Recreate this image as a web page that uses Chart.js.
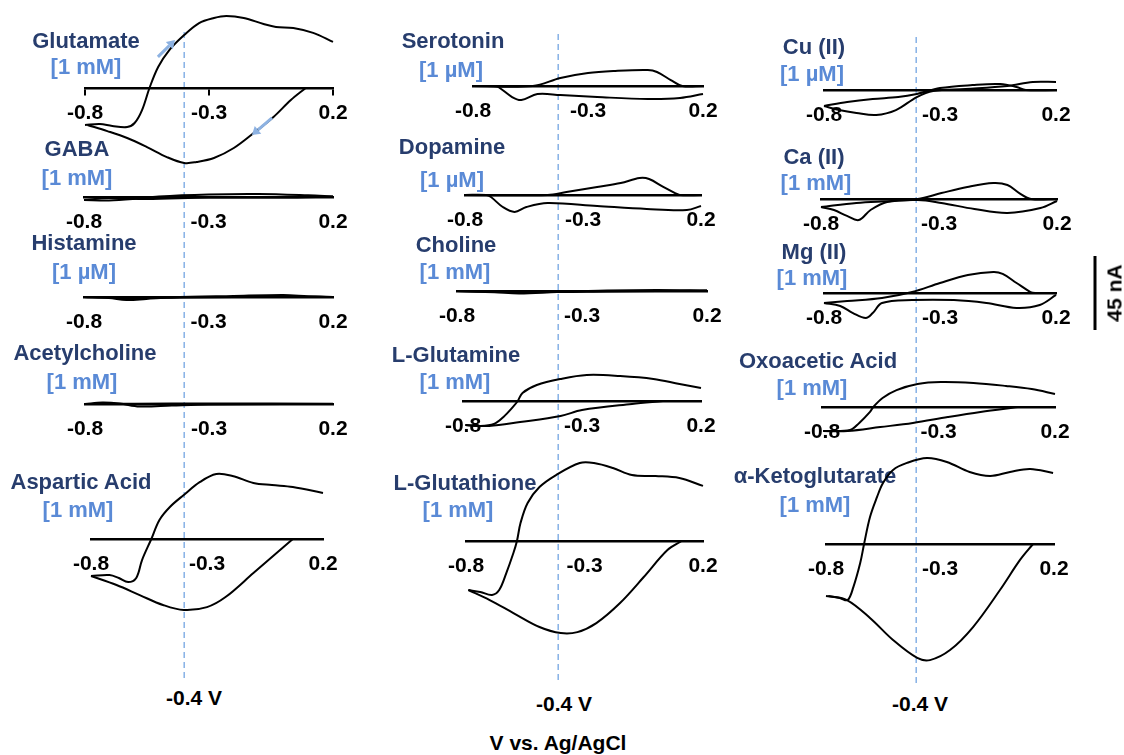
<!DOCTYPE html>
<html>
<head>
<meta charset="utf-8">
<script src="https://cdn.jsdelivr.net/npm/chart.js@4.4.1/dist/chart.umd.min.js"></script>
<style>
  html, body { margin: 0; padding: 0; background: #fff; }
  #fig { position: relative; width: 1124px; height: 755px; overflow: hidden;
         font-family: "Liberation Sans", Arial, sans-serif; font-weight: bold; }
  .lbl { position: absolute; white-space: nowrap; transform: translate(-50%, -50%);
         font-size: 21px; line-height: 1; }
  .name { color: #273d6d; font-size: 22px; }
  .conc { color: #5a8ad6; font-size: 22px; }
  .plot { position: absolute; }
</style>
</head>
<body>
<div id="fig"></div>
<script>
// ---- data (potential in V, current in nA) ----
const xTicks = [-0.8, -0.3, 0.2];
const xTickLabels = ['-0.8', '-0.3', '0.2'];
const guideV = -0.4;
const scaleBarNA = 45;

const glutamateFwd = [[-0.8,-22.5],[-0.74,-21.9],[-0.69,-23.1],[-0.63,-23.7],[-0.6,-21.3],[-0.57,-13.4],[-0.54,0],[-0.505,12.8],[-0.46,23.1],[-0.4,32.2],[-0.34,39.5],[-0.28,42.6],[-0.23,43.8],[-0.16,42.6],[-0.08,38.9],[-0.03,37.1],[0.04,36.5],[0.12,33.5],[0.2,28.0]];
const glutamateRev = [[0.09,0],[0.03,-7.3],[-0.04,-17.6],[-0.12,-27.4],[-0.2,-36.5],[-0.28,-42.6],[-0.35,-45],[-0.4,-45.6],[-0.47,-42],[-0.55,-35.9],[-0.63,-30.4],[-0.71,-26.2],[-0.79,-22.5]];
const glutamateArrows = [[[-0.506,18.9],[-0.437,29.2]], [[-0.046,-18.2],[-0.127,-28.6]]];

const gabaFwd = [[-0.8,-1.8],[-0.7,-2.1],[-0.6,-1.2],[-0.5,0.3],[-0.3,1.5],[-0.1,1.8],[0.1,1.0],[0.2,0.3]];
const gabaRev = [[0.2,0.3],[0.0,-0.3],[-0.3,-0.3],[-0.55,-1.2],[-0.7,-0.6],[-0.8,-1.8]];

const histamineFwd = [[-0.8,0],[-0.7,-0.6],[-0.63,-1.8],[-0.55,-1.2],[-0.45,-0.3],[-0.2,0.6],[0,1.2],[0.1,0.5],[0.2,0]];
const histamineRev = [[0.2,0],[0,0.3],[-0.4,-0.3],[-0.6,-0.6],[-0.8,0]];

const achFwd = [[-0.8,0],[-0.73,0.9],[-0.66,0.3],[-0.58,-1.5],[-0.45,-0.9],[-0.3,-0.3],[0,0],[0.2,0]];
const achRev = [[0.2,0.2],[-0.3,0.3],[-0.6,0.2],[-0.8,0]];

const aspFwd = [[-0.8,-22.5],[-0.72,-21.9],[-0.68,-23.7],[-0.64,-26.2],[-0.605,-23.7],[-0.58,-12.8],[-0.54,0],[-0.505,11.6],[-0.46,19.5],[-0.4,26.8],[-0.33,34.7],[-0.26,39.5],[-0.19,38.3],[-0.1,34.1],[-0.02,32.8],[0.07,31.6],[0.2,28.0]];
const aspRev = [[0.07,0],[0.0,-8.5],[-0.1,-20.7],[-0.22,-35.3],[-0.3,-41.4],[-0.4,-43.2],[-0.49,-40.1],[-0.59,-34.1],[-0.69,-28.0],[-0.8,-22.5]];

const serFwd = [[-0.8,0],[-0.54,0],[-0.42,4.9],[-0.3,7.9],[-0.19,9.1],[-0.04,9.7],[0.0,8.5],[0.06,3.6],[0.11,0],[0.2,0]];
const serRev = [[0.2,-4.9],[0.1,-7.3],[-0.04,-7.9],[-0.26,-6.7],[-0.42,-5.5],[-0.52,-4.9],[-0.59,-8.5],[-0.63,-6.7],[-0.69,-0.6],[-0.71,0],[-0.8,0]];

const dopFwd = [[-0.8,0],[-0.45,0],[-0.37,1.8],[-0.24,4.9],[-0.14,7.3],[-0.06,10.3],[-0.02,9.7],[0.04,4.9],[0.09,1.2],[0.11,0],[0.2,0]];
const dopRev = [[0.2,-6.7],[0.14,-9.1],[-0.03,-8.5],[-0.24,-6.7],[-0.45,-4.9],[-0.54,-7.3],[-0.59,-10.3],[-0.64,-7.3],[-0.69,-1.2],[-0.71,0],[-0.8,0]];

const cholFwd = [[-0.8,0],[-0.65,-0.8],[-0.55,-1.5],[-0.4,-0.6],[-0.2,0.3],[0,0.6],[0.2,0.3]];
const cholRev = [[0.2,0.3],[-0.2,-0.3],[-0.5,-0.6],[-0.8,0]];

const glnFwd = [[-0.79,-14.6],[-0.73,-15.2],[-0.67,-14.0],[-0.63,-9.7],[-0.59,-3.6],[-0.57,0],[-0.55,4.9],[-0.49,9.7],[-0.39,13.4],[-0.28,15.8],[-0.14,15.2],[0.0,13.4],[0.11,10.3],[0.2,7.9]];
const glnRev = [[0.04,0],[-0.09,-1.8],[-0.3,-5.5],[-0.39,-9.1],[-0.56,-12.8],[-0.69,-15.2],[-0.79,-14.6]];

const gshFwd = [[-0.79,-29.8],[-0.74,-31.0],[-0.69,-32.8],[-0.66,-29.8],[-0.63,-19.5],[-0.6,-7.3],[-0.585,0],[-0.57,10.9],[-0.54,23.1],[-0.49,32.8],[-0.42,40.1],[-0.32,47.4],[-0.26,47.4],[-0.18,44.4],[-0.1,40.1],[0.0,39.5],[0.1,38.3],[0.2,33.5]];
const gshRev = [[0.11,0],[0.05,-5.5],[-0.05,-21.9],[-0.15,-37.7],[-0.25,-49.9],[-0.33,-55.4],[-0.4,-56.0],[-0.49,-52.3],[-0.6,-43.8],[-0.7,-35.9],[-0.79,-29.8]];

const cuFwd = [[-0.8,-9.7],[-0.735,-12.2],[-0.66,-14.0],[-0.575,-15.2],[-0.49,-12.2],[-0.4,-4.3],[-0.33,-0.6],[-0.19,0.6],[-0.01,2.4],[0.1,4.9],[0.2,4.9]];
const cuRev = [[0.2,0],[0.07,0],[0.03,1.8],[-0.04,3.6],[-0.16,3.0],[-0.3,1.2],[-0.4,-2.4],[-0.48,-4.3],[-0.59,-5.5],[-0.7,-7.3],[-0.8,-9.7]];

const caFwd = [[-0.8,-4.9],[-0.65,-2.4],[-0.5,-1.2],[-0.39,0],[-0.29,3.6],[-0.18,7.3],[-0.07,9.7],[-0.01,8.5],[0.04,3.6],[0.09,0],[0.2,0]];
const caRev = [[0.2,-1.2],[0.13,-5.5],[-0.01,-8.5],[-0.15,-6.1],[-0.29,-2.4],[-0.39,-0.6],[-0.52,-1.8],[-0.59,-6.7],[-0.64,-12.8],[-0.69,-10.3],[-0.745,-6.7],[-0.8,-4.9]];

const mgFwd = [[-0.8,-6.1],[-0.7,-4.9],[-0.55,-3.0],[-0.42,0.6],[-0.3,6.1],[-0.18,10.9],[-0.07,12.8],[-0.03,11.6],[0.03,6.1],[0.09,0.6],[0.11,0],[0.2,0]];
const mgRev = [[0.2,-1.2],[0.13,-7.3],[0.03,-9.1],[-0.1,-6.1],[-0.24,-4.3],[-0.42,-4.3],[-0.55,-6.1],[-0.59,-12.2],[-0.62,-15.2],[-0.675,-12.2],[-0.73,-7.9],[-0.8,-6.1]];

const oxoFwd = [[-0.795,-14.6],[-0.68,-14.0],[-0.64,-9.7],[-0.594,-3.0],[-0.58,0],[-0.54,5.5],[-0.48,10.3],[-0.39,14.0],[-0.29,15.2],[-0.15,14.6],[-0.01,12.8],[0.1,10.9],[0.2,7.9]];
const oxoRev = [[0.04,0],[-0.12,-3.0],[-0.26,-6.1],[-0.41,-9.7],[-0.55,-12.2],[-0.69,-14.6],[-0.795,-14.6]];

const ketoFwd = [[-0.8,-31.6],[-0.74,-32.8],[-0.705,-34.1],[-0.68,-26.2],[-0.65,-11.6],[-0.633,0],[-0.607,16.4],[-0.576,28.6],[-0.55,37.1],[-0.506,45.0],[-0.445,49.3],[-0.357,52.3],[-0.27,49.9],[-0.17,43.8],[-0.08,41.4],[0.007,43.8],[0.095,45.6],[0.196,43.2]];
const ketoRev = [[0.108,0],[0.051,-9.7],[-0.037,-28.0],[-0.155,-50.5],[-0.256,-64.5],[-0.344,-70.6],[-0.4,-69.3],[-0.506,-58.4],[-0.607,-45.0],[-0.708,-34.1],[-0.79,-31.6]];

const panels = [
  { name: 'Glutamate', conc: '[1 mM]', data: [glutamateFwd, glutamateRev], ticks: true, arrows: glutamateArrows },
  { name: 'GABA', conc: '[1 mM]', data: [gabaFwd, gabaRev] },
  { name: 'Histamine', conc: '[1 µM]', data: [histamineFwd, histamineRev] },
  { name: 'Acetylcholine', conc: '[1 mM]', data: [achFwd, achRev] },
  { name: 'Aspartic Acid', conc: '[1 mM]', data: [aspFwd, aspRev] },
  { name: 'Serotonin', conc: '[1 µM]', data: [serFwd, serRev] },
  { name: 'Dopamine', conc: '[1 µM]', data: [dopFwd, dopRev] },
  { name: 'Choline', conc: '[1 mM]', data: [cholFwd, cholRev] },
  { name: 'L-Glutamine', conc: '[1 mM]', data: [glnFwd, glnRev] },
  { name: 'L-Glutathione', conc: '[1 mM]', data: [gshFwd, gshRev] },
  { name: 'Cu (II)', conc: '[1 µM]', data: [cuFwd, cuRev] },
  { name: 'Ca (II)', conc: '[1 mM]', data: [caFwd, caRev] },
  { name: 'Mg (II)', conc: '[1 mM]', data: [mgFwd, mgRev] },
  { name: 'Oxoacetic Acid', conc: '[1 mM]', data: [oxoFwd, oxoRev] },
  { name: 'α-Ketoglutarate', conc: '[1 mM]', data: [ketoFwd, ketoRev] },
];

// ---- layout (pixels) ----
const K = 74 / 45; // px per nA, from the 45 nA bar
const layout = [
  { x0: 85,  x1: 333,  y0: 88,  top: 5,   bottom: 175, n: [86, 41],  c: [86, 67] },
  { x0: 84,  x1: 333,  y0: 197, top: 180, bottom: 245, n: [77, 149], c: [77, 178] },
  { x0: 84,  x1: 333,  y0: 297, top: 280, bottom: 345, n: [84, 243], c: [84, 272] },
  { x0: 85,  x1: 333,  y0: 404, top: 385, bottom: 450, n: [85, 353], c: [82, 382] },
  { x0: 91,  x1: 323,  y0: 539, top: 465, bottom: 620, n: [81, 482], c: [78, 510] },
  { x0: 473, x1: 703,  y0: 86,  top: 55,  bottom: 130, n: [453, 41], c: [451, 70] },
  { x0: 465, x1: 701,  y0: 195, top: 165, bottom: 240, n: [452, 147], c: [452, 180] },
  { x0: 457, x1: 707,  y0: 291, top: 270, bottom: 340, n: [456, 245], c: [455, 272] },
  { x0: 463, x1: 701,  y0: 401, top: 360, bottom: 445, n: [456, 355], c: [455, 382] },
  { x0: 466, x1: 703,  y0: 541, top: 450, bottom: 645, n: [465, 483], c: [458, 510] },
  { x0: 824, x1: 1056, y0: 90,  top: 65,  bottom: 135, n: [814, 47], c: [812, 74] },
  { x0: 821, x1: 1057, y0: 199, top: 170, bottom: 240, n: [814, 157], c: [816, 183] },
  { x0: 824, x1: 1056, y0: 293, top: 260, bottom: 340, n: [814, 252], c: [812, 278] },
  { x0: 822, x1: 1055, y0: 407, top: 370, bottom: 450, n: [818, 361], c: [812, 388] },
  { x0: 826, x1: 1054, y0: 544, top: 450, bottom: 670, n: [815, 476], c: [815, 505] },
];
const guideCols = [
  { x0: 85,  x1: 333,  top: 30, bottom: 678, lbl: [194, 697] },
  { x0: 463, x1: 701,  top: 32, bottom: 680, lbl: [564, 703] },
  { x0: 823, x1: 1056, top: 35, bottom: 683, lbl: [920, 703] },
];

const FONT = '"Liberation Sans", Arial, sans-serif';
const fig = document.getElementById('fig');
const noUi = { legend: { display: false }, tooltip: { enabled: false } };

function addText(txt, cls, x, y, extra) {
  const d = document.createElement('div');
  d.className = 'lbl ' + cls;
  d.textContent = txt;
  d.style.left = x + 'px';
  d.style.top = y + 'px';
  if (extra) Object.assign(d.style, extra);
  fig.appendChild(d);
}

function addCanvas(left, top, w, h) {
  const cv = document.createElement('canvas');
  cv.className = 'plot';
  cv.width = w; cv.height = h;
  cv.style.left = left + 'px';
  cv.style.top = top + 'px';
  fig.appendChild(cv);
  return cv;
}

// light blue scan-direction arrows
const arrowPlugin = {
  id: 'arrows',
  afterDatasetsDraw(chart, args, opts) {
    const list = opts.list || [];
    const { ctx } = chart, sx = chart.scales.x, sy = chart.scales.y;
    ctx.save();
    ctx.strokeStyle = ctx.fillStyle = '#8db2e2';
    ctx.lineWidth = 3;
    list.forEach(([a, b]) => {
      const x1 = sx.getPixelForValue(a[0]), y1 = sy.getPixelForValue(a[1]);
      const x2 = sx.getPixelForValue(b[0]), y2 = sy.getPixelForValue(b[1]);
      const ang = Math.atan2(y2 - y1, x2 - x1);
      const hx = x2 - 8 * Math.cos(ang), hy = y2 - 8 * Math.sin(ang);
      ctx.beginPath(); ctx.moveTo(x1, y1); ctx.lineTo(hx, hy); ctx.stroke();
      ctx.beginPath();
      ctx.moveTo(x2, y2);
      ctx.lineTo(hx + 5 * Math.sin(ang), hy - 5 * Math.cos(ang));
      ctx.lineTo(hx - 5 * Math.sin(ang), hy + 5 * Math.cos(ang));
      ctx.closePath(); ctx.fill();
    });
    ctx.restore();
  }
};

// dashed -0.4 V guides, one per column
guideCols.forEach(g => {
  const cv = addCanvas(g.x0, g.top, g.x1 - g.x0, g.bottom - g.top);
  new Chart(cv, {
    type: 'line',
    data: { datasets: [{ data: [[guideV, 0], [guideV, 1]], borderColor: '#86b1e6', borderWidth: 1.5,
                         borderDash: [6, 4], pointRadius: 0 }] },
    options: {
      responsive: false, animation: false, events: [],
      layout: { padding: 0 }, plugins: noUi,
      scales: { x: { type: 'linear', display: false, min: -0.8, max: 0.2 },
                y: { type: 'linear', display: false, min: 0, max: 1 } }
    }
  });
  addText(guideV.toFixed(1) + ' V', '', g.lbl[0], g.lbl[1], { color: '#000' });
});

// titles
panels.forEach((p, i) => {
  const g = layout[i];
  addText(p.name, 'name', g.n[0], g.n[1]);
  addText(p.conc, 'conc', g.c[0], g.c[1]);
});

// voltammograms
const PADX = 30;
panels.forEach((p, i) => {
  const g = layout[i];
  const cv = addCanvas(g.x0 - PADX, g.top, g.x1 - g.x0 + 2 * PADX, g.bottom - g.top);
  new Chart(cv, {
    type: 'line',
    data: {
      datasets: p.data.map(d => ({ data: d, borderColor: '#000', borderWidth: 2, pointRadius: 0,
                                   tension: 0.35, fill: false, clip: false }))
    },
    options: {
      responsive: false, animation: false, events: [],
      layout: { padding: { left: PADX, right: PADX, top: 0, bottom: 0 } },
      plugins: Object.assign({ arrows: { list: p.arrows || [] } }, noUi),
      scales: {
        x: {
          type: 'linear', min: -0.8, max: 0.2, position: { y: 0 },
          afterBuildTicks: s => { s.ticks = xTicks.map(v => ({ value: v })); },
          afterFit: s => { s.height = 0; s.paddingLeft = 0; s.paddingRight = 0; },
          grid: { display: !!p.ticks, drawOnChartArea: false, drawTicks: !!p.ticks, tickLength: 6,
                  color: '#000', lineWidth: 2 },
          border: { display: true, color: '#000', width: 2.6 },
          ticks: { padding: p.ticks ? 7 : 13, color: '#000', autoSkip: false, maxRotation: 0,
                   font: { family: FONT, size: 21, weight: 'bold' },
                   callback: (v, idx) => xTickLabels[idx] }
        },
        y: { type: 'linear', display: false, min: -(g.bottom - g.y0) / K, max: (g.y0 - g.top) / K }
      }
    },
    plugins: p.arrows ? [arrowPlugin] : []
  });
});

// 45 nA scale bar
{
  const cv = addCanvas(1085, 256, 20, 74);
  new Chart(cv, {
    type: 'line',
    data: { datasets: [{ data: [[0, 0], [0, scaleBarNA]], borderColor: '#000', borderWidth: 3, pointRadius: 0 }] },
    options: {
      responsive: false, animation: false, events: [],
      layout: { padding: 0 }, plugins: noUi,
      scales: { x: { type: 'linear', display: false, min: -1, max: 1 },
                y: { type: 'linear', display: false, min: 0, max: scaleBarNA } }
    }
  });
  addText(scaleBarNA + ' nA', '', 1114, 293, { color: '#000', transform: 'translate(-50%, -50%) rotate(-90deg)' });
}

addText('V vs. Ag/AgCl', '', 558, 742, { color: '#000' });
</script>
</body>
</html>
